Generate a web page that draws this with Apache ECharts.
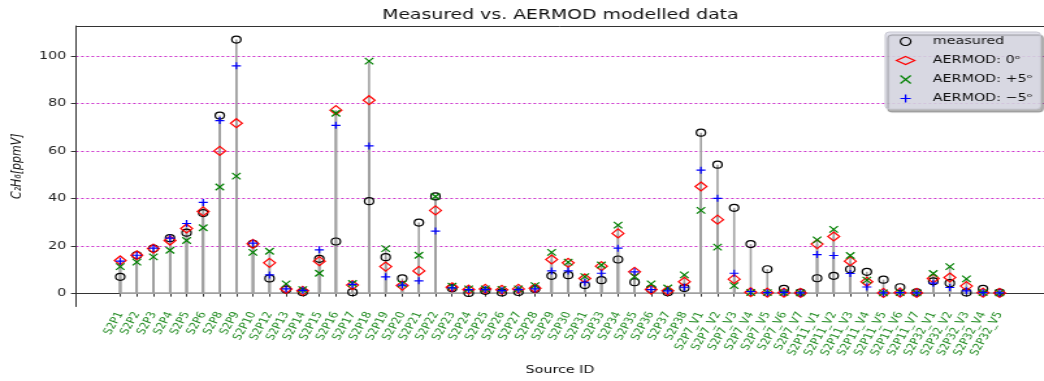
<!DOCTYPE html>
<html>
<head>
<meta charset="utf-8">
<script src="https://cdn.jsdelivr.net/npm/echarts@6/dist/echarts.min.js"></script>
<style>
  html, body { margin: 0; padding: 0; background: #fff; overflow: hidden; }
  /* the figure is laid out on a narrower canvas and widened horizontally */
  #chart { width: 803px; height: 381px; transform: scaleX(1.3); transform-origin: 0 0; }
</style>
</head>
<body>
<div id="chart"></div>
<script>
// Source IDs along the x axis
const categories = [
  'S2P1','S2P2','S2P3','S2P4','S2P5','S2P6','S2P8','S2P9','S2P10','S2P12',
  'S2P13','S2P14','S2P15','S2P16','S2P17','S2P18','S2P19','S2P20','S2P21','S2P22',
  'S2P23','S2P24','S2P25','S2P26','S2P27','S2P28','S2P29','S2P30','S2P31','S2P33',
  'S2P34','S2P35','S2P36','S2P37','S2P38',
  'S2P7_V1','S2P7_V2','S2P7_V3','S2P7_V4','S2P7_V5','S2P7_V6','S2P7_V7',
  'S2P11_V1','S2P11_V2','S2P11_V3','S2P11_V4','S2P11_V5','S2P11_V6','S2P11_V7',
  'S2P32_V1','S2P32_V2','S2P32_V3','S2P32_V4','S2P32_V5'
];

// C2H6 concentrations [ppmV]
const measured = [
  6.9, 16.0, 18.8, 23.2, 25.5, 33.8, 74.9, 107.0, 20.8, 6.2,
  1.5, 0.4, 14.5, 21.8, 0.4, 38.8, 15.2, 6.2, 29.8, 40.8,
  2.1, 0.1, 1.0, 0.3, 0.5, 1.8, 7.3, 7.6, 3.4, 5.5,
  14.2, 4.6, 1.8, 0.4, 2.2,
  67.7, 54.2, 36.0, 20.7, 10.1, 1.8, 0.2,
  6.3, 7.3, 10.1, 9.0, 5.7, 2.5, 0.3,
  5.0, 4.2, 0.3, 1.8, 0.2
];
const aermod0 = [
  13.8, 16.0, 18.8, 22.2, 27.3, 34.5, 60.0, 71.7, 20.8, 12.8,
  1.8, 1.0, 13.5, 77.2, 3.4, 81.4, 11.2, 3.2, 9.4, 34.9,
  2.5, 1.5, 1.8, 1.4, 1.8, 2.1, 14.2, 12.8, 6.2, 11.4,
  25.2, 9.0, 1.5, 1.0, 4.8,
  45.0, 31.0, 5.9, 0.4, 0.2, 0.2, 0.1,
  20.7, 23.9, 13.5, 4.8, 0.1, 0.2, 0.1,
  6.2, 6.6, 3.0, 0.2, 0.1
];
const aermodPlus5 = [
  11.2, 13.1, 15.3, 18.1, 22.2, 27.6, 44.8, 49.4, 17.2, 17.7,
  3.9, 1.5, 8.4, 75.9, 4.1, 97.9, 18.8, 3.9, 16.0, 40.8,
  2.9, 1.8, 1.8, 1.6, 1.8, 3.2, 17.2, 13.1, 7.0, 11.9,
  28.7, 7.0, 3.9, 2.2, 7.7,
  34.9, 19.4, 3.2, 0.3, 0.2, 0.2, 0.1,
  22.5, 26.9, 15.9, 5.5, 0.1, 0.2, 0.1,
  8.3, 11.2, 6.0, 0.2, 0.1
];
const aermodMinus5 = [
  13.5, 16.0, 19.0, 23.2, 29.4, 38.3, 72.8, 95.9, 21.1, 7.7,
  1.8, 1.2, 18.3, 70.8, 3.7, 62.1, 6.9, 3.4, 5.2, 26.2,
  2.2, 1.5, 1.5, 1.1, 1.5, 1.8, 9.4, 9.4, 4.6, 8.4,
  19.0, 9.0, 1.5, 1.0, 2.5,
  51.9, 40.0, 8.4, 0.7, 0.2, 0.3, 0.1,
  16.3, 15.9, 8.3, 2.6, 0.1, 0.2, 0.1,
  4.2, 2.4, 1.0, 0.2, 0.1
];

const yTicks = [0, 20, 40, 60, 80, 100];
const seriesNames = ['measured', 'AERMOD: 0\u1D52', 'AERMOD: +5\u1D52', 'AERMOD: \u22125\u1D52'];

const FONT = 'DejaVu Sans';
const CROSS = 'path://M0,0L10,10M10,0L0,10';
const PLUS = 'path://M5,0L5,10M0,5L10,5';
const idx = categories.map((_, i) => i);
const xMin = -2.67, xMax = categories.length - 1 + 2.67;
// 2.4 px per ppmV over a 284 px tall plot
const yMin = -5.625, yMax = 112.708;

// vertical stem from the baseline to each value
function stems(values) {
  return {
    type: 'custom',
    silent: true,
    z: 1,
    data: values.map((v, i) => [i, v]),
    renderItem(params, api) {
      const p0 = api.coord([api.value(0), 0]);
      const p1 = api.coord([api.value(0), api.value(1)]);
      return {
        type: 'line',
        shape: { x1: p0[0], y1: p0[1], x2: p1[0], y2: p1[1] },
        style: { stroke: '#a0a0a0', lineWidth: 1.6 }
      };
    }
  };
}

function markers(name, values, symbol, size, color, z) {
  return {
    name, type: 'scatter', z,
    symbol, symbolSize: size,
    data: values.map((v, i) => [i, v]),
    itemStyle: { color: 'rgba(0,0,0,0)', borderColor: color, borderWidth: 1.2, opacity: 1 }
  };
}

const chart = echarts.init(document.getElementById('chart'), null, { renderer: 'canvas' });
chart.setOption({
  animation: false,
  textStyle: { fontFamily: FONT },
  title: {
    text: 'Measured vs. AERMOD modelled data',
    left: 431, top: 8, textAlign: 'center', padding: 0,
    textStyle: { fontFamily: FONT, fontSize: 14.5, fontWeight: 'normal', color: '#111' }
  },
  legend: {
    orient: 'vertical',
    left: 681, top: 32,
    padding: [4, 6, 5, 8],
    itemWidth: 14, itemHeight: 8, itemGap: 8,
    backgroundColor: 'rgba(222,222,234,0.85)',
    borderColor: '#c8c8d2', borderWidth: 1, borderRadius: 3,
    shadowColor: 'rgba(0,0,0,0.35)', shadowOffsetX: 2, shadowOffsetY: 3, shadowBlur: 1,
    textStyle: { fontFamily: FONT, fontSize: 11, color: '#111', padding: [0, 0, 0, 9] },
    data: [
      { name: seriesNames[0], icon: 'circle', itemStyle: { color: 'rgba(0,0,0,0)', borderColor: '#000', borderWidth: 1.2 } },
      { name: seriesNames[1], icon: 'diamond', itemStyle: { color: 'rgba(0,0,0,0)', borderColor: '#ff0000', borderWidth: 1.2 } },
      { name: seriesNames[2], icon: CROSS, itemStyle: { color: 'rgba(0,0,0,0)', borderColor: '#008000', borderWidth: 1.2 } },
      { name: seriesNames[3], icon: PLUS, itemStyle: { color: 'rgba(0,0,0,0)', borderColor: '#0000ff', borderWidth: 1.2 } }
    ]
  },
  grid: { left: 53.3, top: 26, width: 755.9, height: 284, containLabel: false },
  xAxis: [
    {
      type: 'value', min: xMin, max: xMax, position: 'bottom',
      name: 'Source ID', nameLocation: 'middle', nameGap: 54,
      nameTextStyle: { fontFamily: FONT, fontSize: 11, color: '#111' },
      axisLine: { show: true, lineStyle: { color: '#333', width: 1 } },
      axisTick: { show: true, customValues: idx, length: 3.5, lineStyle: { color: '#333', width: 1 } },
      axisLabel: {
        customValues: idx, rotate: 65, margin: 6,
        fontFamily: FONT, fontSize: 9.5, color: '#1f8a1f',
        formatter: v => categories[Math.round(v)] || ''
      },
      splitLine: { show: false }
    },
    {
      type: 'value', min: xMin, max: xMax, position: 'top',
      axisLine: { show: true, onZero: false, lineStyle: { color: '#333', width: 1 } },
      axisTick: { show: false }, axisLabel: { show: false }, splitLine: { show: false }
    }
  ],
  yAxis: {
    type: 'value', min: yMin, max: yMax,
    name: 'C\u2082H\u2086[ppmV]', nameLocation: 'middle', nameGap: 35, nameRotate: 90,
    nameTextStyle: { fontFamily: FONT, fontSize: 11, fontStyle: 'italic', color: '#111' },
    axisLine: { show: true, onZero: false, lineStyle: { color: '#333', width: 1 } },
    axisTick: { show: true, customValues: yTicks, length: 3.8, lineStyle: { color: '#333', width: 1 } },
    axisLabel: { customValues: yTicks, margin: 7.5, fontFamily: FONT, fontSize: 11, color: '#222' },
    splitLine: { show: true, lineStyle: { color: '#cc33cc', width: 1, type: [2, 2] } }
  },
  series: [
    stems(measured), stems(aermod0), stems(aermodPlus5), stems(aermodMinus5),
    {
      type: 'line', silent: true, z: 1, symbol: 'none',
      data: [[0, 0], [categories.length - 1, 0]],
      lineStyle: { color: '#a0a0a0', width: 1.6 }
    },
    markers(seriesNames[0], measured, 'circle', 7, '#000000', 3),
    markers(seriesNames[1], aermod0, 'diamond', 9, '#ff0000', 4),
    markers(seriesNames[2], aermodPlus5, CROSS, 6.5, '#008000', 5),
    markers(seriesNames[3], aermodMinus5, PLUS, 7, '#0000ff', 6)
  ]
});
</script>
</body>
</html>
